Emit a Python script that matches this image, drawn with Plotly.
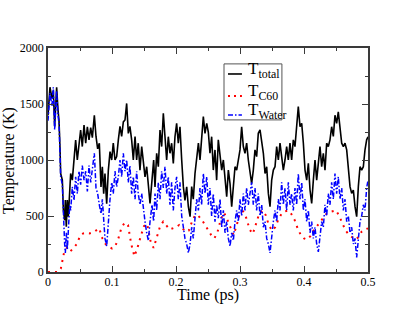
import plotly.graph_objects as go

# time (ps) of each sample of the total / water temperature traces
t_ps = [
    0.0000, 0.0031, 0.0062, 0.0083, 0.0104, 0.0135, 0.0156, 0.0172, 0.0188, 0.0198,
    0.0224, 0.0240, 0.0260, 0.0271, 0.0286, 0.0302, 0.0318, 0.0339, 0.0354, 0.0380,
    0.0406, 0.0432, 0.0458, 0.0484, 0.0510, 0.0536, 0.0563, 0.0589, 0.0615, 0.0641,
    0.0667, 0.0693, 0.0724, 0.0750, 0.0776, 0.0802, 0.0828, 0.0849, 0.0870, 0.0890,
    0.0917, 0.0943, 0.0969, 0.0995, 0.1020, 0.1047, 0.1073, 0.1099, 0.1125, 0.1151,
    0.1177, 0.1203, 0.1229, 0.1255, 0.1280, 0.1307, 0.1333, 0.1360, 0.1385, 0.1410,
    0.1437, 0.1464, 0.1490, 0.1516, 0.1542, 0.1568, 0.1594, 0.1625, 0.1651, 0.1672,
    0.1698, 0.1724, 0.1750, 0.1776, 0.1802, 0.1828, 0.1854, 0.1880, 0.1906, 0.1932,
    0.1958, 0.1984, 0.2010, 0.2036, 0.2062, 0.2089, 0.2115, 0.2140, 0.2167, 0.2193,
    0.2220, 0.2245, 0.2270, 0.2297, 0.2323, 0.2350, 0.2375, 0.2400, 0.2427, 0.2453,
    0.2480, 0.2505, 0.2531, 0.2557, 0.2583, 0.2609, 0.2635, 0.2661, 0.2688, 0.2714,
    0.2740, 0.2766, 0.2792, 0.2818, 0.2844, 0.2870, 0.2896, 0.2922, 0.2948, 0.2974,
    0.3000, 0.3026, 0.3052, 0.3078, 0.3104, 0.3130, 0.3156, 0.3182, 0.3208, 0.3234,
    0.3260, 0.3286, 0.3313, 0.3339, 0.3365, 0.3391, 0.3417, 0.3443, 0.3469, 0.3495,
    0.3521, 0.3547, 0.3573, 0.3599, 0.3625, 0.3651, 0.3677, 0.3703, 0.3729, 0.3755,
    0.3781, 0.3807, 0.3833, 0.3859, 0.3885, 0.3911, 0.3938, 0.3964, 0.3990, 0.4016,
    0.4042, 0.4068, 0.4094, 0.4120, 0.4146, 0.4172, 0.4198, 0.4224, 0.4250, 0.4276,
    0.4302, 0.4328, 0.4354, 0.4380, 0.4406, 0.4432, 0.4458, 0.4484, 0.4510, 0.4536,
    0.4563, 0.4589, 0.4615, 0.4641, 0.4667, 0.4693, 0.4719, 0.4745, 0.4771, 0.4797,
    0.4823, 0.4849, 0.4875, 0.4901, 0.4927, 0.4953, 0.4979, 0.5000,
]

T_total = [
    1400, 1650, 1550, 1620, 1300, 1650, 1450, 1350, 1100, 880,
    820, 553, 464, 643, 405, 643, 494, 820, 880, 820,
    970, 1178, 1000, 1150, 1268, 1120, 1312, 1150, 1297, 1180,
    1290, 1200, 1400, 1210, 1100, 1150, 760, 940, 700, 880,
    610, 910, 1075, 1000, 1150, 1000, 1030, 1180, 1300, 1210,
    1340, 1357, 1505, 1238, 1300, 1180, 1000, 1210, 1000, 1150,
    910, 1120, 970, 850, 940, 760, 613, 820, 1000, 760,
    1060, 940, 1268, 1120, 1417, 1208, 1000, 1208, 1060, 1150,
    970, 1208, 1327, 1150, 1297, 1000, 760, 640, 760, 583,
    494, 762, 650, 880, 1030, 1150, 1000, 1208, 1387, 1238,
    1327, 1250, 1060, 1208, 910, 1090, 820, 1180, 1030, 910,
    1000, 820, 672, 910, 790, 583, 760, 940, 910, 1000,
    1090, 1297, 1120, 1060, 1150, 1000, 910, 790, 910, 1090,
    1030, 1238, 1268, 1150, 1060, 880, 940, 702, 583, 820,
    910, 940, 1120, 1000, 1150, 1030, 910, 1000, 1120, 1000,
    1150, 1000, 1180, 1120, 1297, 1476, 1297, 1327, 1150, 910,
    820, 970, 732, 613, 820, 1000, 820, 970, 1120, 940,
    1060, 910, 1150, 1120, 1180, 1297, 1210, 1400, 1327, 1430,
    1297, 1150, 1120, 1150, 1090, 940, 762, 702, 732, 583,
    494, 762, 940, 910, 940, 1090, 1180, 1208,
]

T_water = [
    1350, 1600, 1480, 1650, 1270, 1620, 1400, 1330, 1050, 850,
    780, 450, 250, 170, 350, 200, 450, 600, 550, 760,
    640, 850, 700, 900, 780, 950, 820, 900, 720, 950,
    800, 900, 1060, 750, 700, 600, 520, 650, 400, 300,
    230, 500, 650, 800, 700, 900, 760, 850, 1000, 850,
    1060, 900, 1000, 800, 950, 700, 850, 650, 900, 700,
    600, 700, 550, 450, 350, 280, 450, 600, 450, 700,
    550, 800, 650, 900, 750, 940, 700, 850, 600, 800,
    550, 750, 850, 650, 800, 500, 400, 300, 250, 170,
    250, 400, 300, 500, 650, 550, 750, 600, 880, 700,
    850, 600, 750, 500, 700, 450, 600, 480, 650, 400,
    550, 350, 450, 300, 230, 350, 280, 450, 550, 450,
    650, 500, 700, 550, 750, 600, 700, 800, 600, 750,
    550, 700, 500, 600, 400, 450, 300, 250, 170, 350,
    450, 550, 450, 650, 550, 800, 600, 750, 550, 800,
    600, 700, 550, 750, 600, 880, 650, 800, 550, 650,
    450, 550, 350, 450, 300, 400, 250, 180, 350, 450,
    400, 600, 500, 700, 600, 800, 650, 880, 700, 850,
    650, 750, 550, 650, 450, 500, 350, 400, 250, 300,
    130, 300, 450, 500, 600, 550, 750, 820,
]

# C60 temperature, sampled every 0.005 ps
t_c60 = [round(i * 0.005, 3) for i in range(101)]
T_c60 = [
    0, 0, 0, 0, 30, 170, 220, 185, 215, 250,
    320, 345, 350, 345, 350, 370, 390, 300, 250, 225,
    210, 230, 300, 400, 440, 420, 250, 140, 220, 320,
    410, 430, 280, 215, 300, 405, 450, 410, 380, 390,
    400, 420, 390, 360, 370, 450, 510, 500, 470, 420,
    370, 330, 300, 360, 470, 530, 470, 400, 330, 420,
    530, 540, 480, 380, 340, 430, 520, 550, 510, 420,
    370, 400, 470, 520, 540, 550, 520, 470, 390, 330,
    300, 290, 320, 370, 410, 450, 490, 520, 535, 540,
    550, 500, 430, 370, 335, 310, 290, 310, 360, 380,
    390,
]

serif = "Liberation Serif"
axis_col = "#3a3a3a"

fig = go.Figure()

fig.add_trace(go.Scatter(x=t_ps, y=T_total, mode="lines", name="T<sub>total</sub>",
                         line=dict(color="black", width=1.6)))
fig.add_trace(go.Scatter(x=t_c60, y=T_c60, mode="lines", name="T<sub>C60</sub>",
                         line=dict(color="#ff0000", width=2, dash="2px,5px")))
fig.add_trace(go.Scatter(x=t_ps, y=T_water, mode="lines", name="T<sub>Water</sub>",
                         line=dict(color="#0000ff", width=1.5, dash="5px,2px,1.5px,2px")))

# hand-drawn legend box (paper coordinates)
fig.add_shape(type="rect", xref="paper", yref="paper",
              x0=0.55, x1=0.731, y0=0.679, y1=0.929,
              line=dict(color="#555555", width=1), fillcolor="white", layer="above")

legend_rows = [
    ("T<sub>total</sub>", 0.884, dict(color="black", width=1.6)),
    ("T<sub>C60</sub>", 0.786, dict(color="#ff0000", width=2, dash="2px,4px")),
    ("T<sub>Water</sub>", 0.701, dict(color="#0000ff", width=1.5, dash="5px,2px,1.5px,2px")),
]
for label, ly, lstyle in legend_rows:
    fig.add_shape(type="line", xref="paper", yref="paper",
                  x0=0.5625, x1=0.606, y0=ly, y1=ly, line=lstyle, layer="above")
    fig.add_annotation(xref="paper", yref="paper", x=0.619, y=ly + 0.017,
                       text=label, showarrow=False, xanchor="left", yanchor="middle",
                       font=dict(family=serif, size=17, color="black"))

# axis titles as annotations so they sit where the original puts them
fig.add_annotation(xref="paper", yref="paper", x=0.5, y=-0.104,
                   text="Time (ps)", showarrow=False, xanchor="center", yanchor="middle",
                   font=dict(family=serif, size=16, color="black"))
fig.add_annotation(xref="paper", yref="paper", x=-0.122, y=0.5, textangle=-90,
                   text="Temperature (K)", showarrow=False, xanchor="center", yanchor="middle",
                   font=dict(family=serif, size=16, color="black"))

fig.update_xaxes(
    range=[0, 0.5], dtick=0.1, tick0=0, automargin=False,
    ticks="inside", ticklen=6, tickwidth=1.2, tickcolor=axis_col,
    minor=dict(dtick=0.05, ticks="inside", ticklen=3, tickcolor=axis_col),
    showline=True, linecolor=axis_col, linewidth=1.5, mirror="ticks",
    showgrid=False, zeroline=False, ticklabelstandoff=-2,
    tickfont=dict(family=serif, size=12, color="black"),
)
fig.update_yaxes(
    range=[0, 2000], dtick=500, tick0=0, automargin=False,
    ticks="inside", ticklen=6, tickwidth=1.2, tickcolor=axis_col,
    minor=dict(dtick=250, ticks="inside", ticklen=3, tickcolor=axis_col),
    showline=True, linecolor=axis_col, linewidth=1.5, mirror="ticks",
    showgrid=False, zeroline=False, ticklabelstandoff=0,
    tickfont=dict(family=serif, size=12, color="black"),
)

fig.update_layout(
    width=415, height=321,
    margin=dict(l=48, r=47, t=48, b=49),
    showlegend=False,
    plot_bgcolor="white", paper_bgcolor="white",
)

# drop the default page margin so the figure fills the window exactly
fig.write_html("out.html", config={"displayModeBar": False},
               post_script="document.body.style.margin='0';")
